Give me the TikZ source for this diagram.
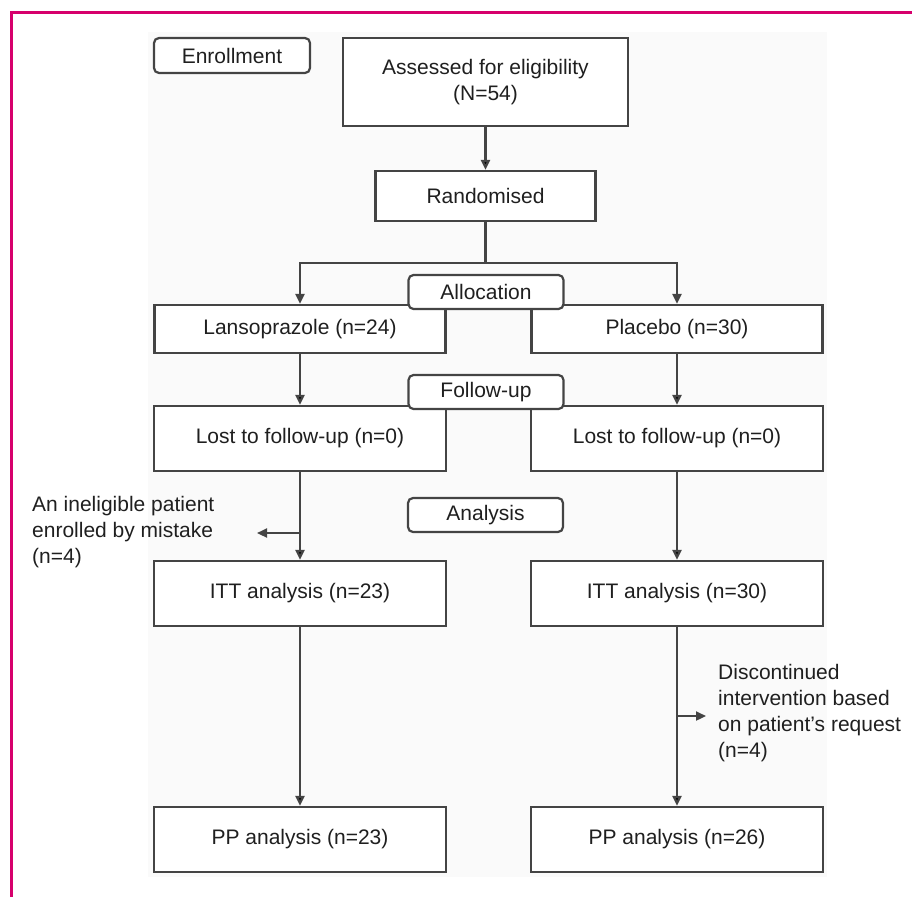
\documentclass[tikz,border=0pt]{standalone}
\usepackage{fontspec}
\setmainfont{Liberation Sans}
\usepackage{tikz}
\usetikzlibrary{arrows.meta,positioning}
\definecolor{frame}{RGB}{214,0,108}
\definecolor{ink}{RGB}{68,68,68}

\begin{document}
\begin{tikzpicture}[x=1pt,y=-1pt,on grid,
  font=\fontsize{21}{26}\selectfont,
  >={Triangle[length=10pt,width=9pt]},
  box/.style={draw=ink,line width=2.2pt,fill=white,inner sep=0pt,text=black!88,align=center},
  tag/.style={box,rounded corners=5pt,minimum width=155pt,minimum height=34pt},
  note/.style={inner sep=0pt,align=left,anchor=west,text=black!88},
  line/.style={draw=ink,line width=2.2pt}]
   \useasboundingbox (0,0) rectangle (912,897);
   \fill[black!2] (148,32) rectangle (827,877);
   \draw[frame,line width=3pt] (912,12) -- (11,12) -- (11,897);
   % boxes
   \node[box,minimum width=285pt,minimum height=88pt] (assess) at (485.5,82) {Assessed for eligibility\\(N=54)};
   \node[tag,minimum width=156pt,minimum height=35pt] (enroll) at (232,55.5) {Enrollment};
   \node[box,minimum width=220pt,minimum height=50pt] (rand) at (485.5,196) {Randomised};
   \node[box,minimum width=291pt,minimum height=48pt] (lanso) at (300,329) {Lansoprazole (n=24)};
   \node[box,minimum width=291pt,minimum height=48pt] (plac) [right=377pt of lanso] {Placebo (n=30)};
   \node[box,minimum width=292pt,minimum height=65pt] (lostL) at (300,438.5) {Lost to follow-up (n=0)};
   \node[box,minimum width=292pt,minimum height=65pt] (lostR) [right=377pt of lostL] {Lost to follow-up (n=0)};
   \node[box,minimum width=292pt,minimum height=65pt] (ittL) at (300,593.5) {ITT analysis (n=23)};
   \node[box,minimum width=292pt,minimum height=65pt] (ittR) [right=377pt of ittL] {ITT analysis (n=30)};
   \node[box,minimum width=292pt,minimum height=65pt] (ppL) at (300,839.5) {PP analysis (n=23)};
   \node[box,minimum width=292pt,minimum height=65pt] (ppR) [right=377pt of ppL] {PP analysis (n=26)};
   % stage labels
   \node[tag] (alloc) at (486,292) {Allocation};
   \node[tag] (follow) at (486,392) {Follow-up};
   \node[tag] (analys) at (485.5,515) {Analysis};
   % side notes
   \node[note] (inelig) at (32,532) {An ineligible patient\\enrolled by mistake\\(n=4)};
   \node[note] (discont) at (718,713) {Discontinued\\intervention based\\on patient's request\\(n=4)};
   % connectors
   \coordinate (split) at (485.5,263);
   \coordinate (tipL) at (257,533);
   \coordinate (tipR) at (706,716);
   \draw[line] (rand) -- (split);
   \draw[line,->] (split) -| (lanso);
   \draw[line,->] (split) -| (plac);
   \path[line,->]
    (assess) edge (rand)
    (lanso) edge (lostL)
    (plac) edge (lostR)
    (lostL) edge (ittL)
    (lostR) edge (ittR)
    (ittL) edge (ppL)
    (ittR) edge (ppR);
   \draw[line,->] (lostL.south |- tipL) -- (tipL);
   \draw[line,->] (ittR.south |- tipR) -- (tipR);
\end{tikzpicture}
\end{document}
